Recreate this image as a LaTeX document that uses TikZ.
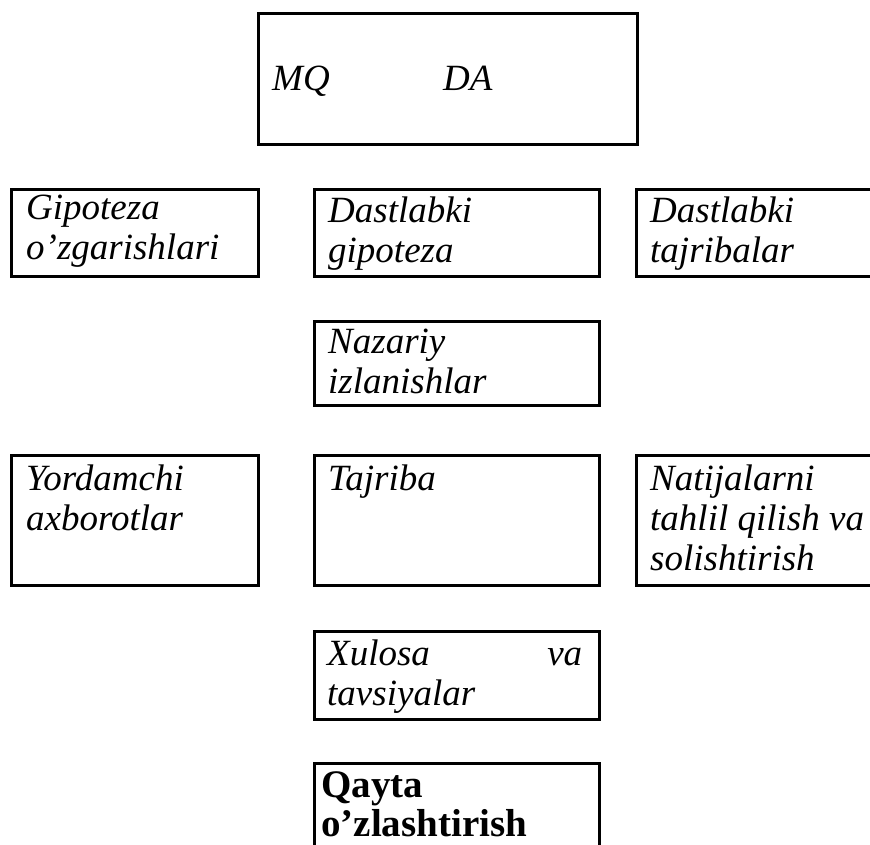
\documentclass[tikz,border=0pt]{standalone}
\usepackage{fontspec}
\setmainfont{Liberation Serif}
\begin{document}
\begin{tikzpicture}[x=1pt,y=-1pt]
\tikzset{
  box/.style={draw, line width=2.5pt, rectangle, anchor=north west, inner sep=0pt},
  txt/.style={anchor=base west, inner sep=0pt, font=\fontsize{37}{40}\selectfont\itshape},
  btxt/.style={anchor=base west, inner sep=0pt, font=\fontsize{39}{39}\selectfont\bfseries}
}
\clip (0,0) rectangle (870,844);
\fill[white] (0,0) rectangle (870,844);
% boxes
\node[box, minimum width=379pt, minimum height=131pt] (top) at (257,12) {};
\node[box, minimum width=247pt, minimum height=87pt] (gip) at (10,188) {};
\node[box, minimum width=285pt, minimum height=87pt] (dgip) at (313,188) {};
\node[box, minimum width=250pt, minimum height=87pt] (dtaj) at (635,188) {};
\node[box, minimum width=285pt, minimum height=84pt] (naz) at (313,320) {};
\node[box, minimum width=247pt, minimum height=130pt] (yord) at (10,454) {};
\node[box, minimum width=285pt, minimum height=130pt] (taj) at (313,454) {};
\node[box, minimum width=250pt, minimum height=130pt] (nat) at (635,454) {};
\node[box, minimum width=285pt, minimum height=88pt] (xul) at (313,630) {};
\node[box, minimum width=285pt, minimum height=120pt] (qay) at (313,762) {};
% texts
\node[txt] (tmq) at ([xshift=15pt,yshift=-78pt]top.north west) {MQ};
\node[txt] (tda) at ([xshift=186pt,yshift=-78pt]top.north west) {DA};
\node[txt] (tgip) at ([xshift=16pt,yshift=-31pt]gip.north west) {\parbox[t]{240pt}{Gipoteza\\o’zgarishlari}};
\node[txt] (tdgip) at ([xshift=15pt,yshift=-34pt]dgip.north west) {\parbox[t]{260pt}{Dastlabki\\gipoteza}};
\node[txt] (tdtaj) at ([xshift=15pt,yshift=-34pt]dtaj.north west) {\parbox[t]{230pt}{Dastlabki\\tajribalar}};
\node[txt] (tnaz) at ([xshift=15pt,yshift=-33pt]naz.north west) {\parbox[t]{260pt}{Nazariy\\izlanishlar}};
\node[txt] (tyord) at ([xshift=16pt,yshift=-36pt]yord.north west) {\parbox[t]{230pt}{Yordamchi\\axborotlar}};
\node[txt] (ttaj) at ([xshift=15pt,yshift=-36pt]taj.north west) {\parbox[t]{260pt}{Tajriba}};
\node[txt] (tnat) at ([xshift=15pt,yshift=-36pt]nat.north west) {\parbox[t]{240pt}{Natijalarni\\tahlil qilish va\\solishtirish}};
\node[txt] (txul) at ([xshift=14pt,yshift=-35pt]xul.north west) {\parbox[t]{255pt}{Xulosa\hfill va\\tavsiyalar}};
\node[btxt] (tqay) at ([xshift=8pt,yshift=-35pt]qay.north west) {\parbox[t]{260pt}{Qayta\\o’zlashtirish}};
\end{tikzpicture}
\end{document}
